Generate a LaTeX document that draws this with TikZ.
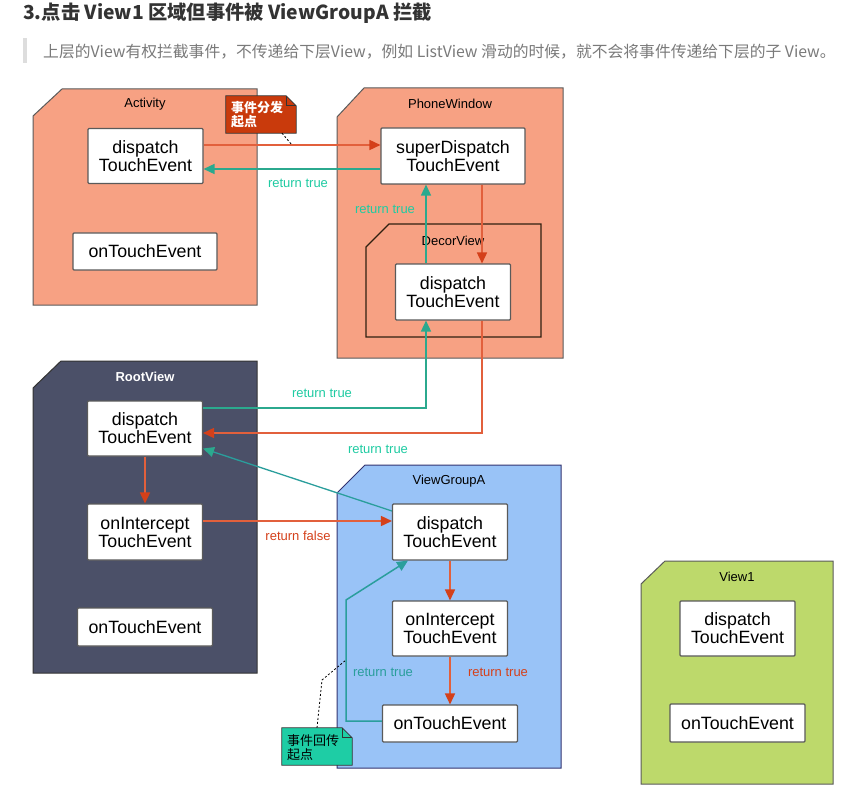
\documentclass[tikz,border=0pt]{standalone}
\usepackage{fontspec}
\setmainfont{Liberation Sans}
\newfontfamily\cjk{Noto Sans CJK SC}
\usetikzlibrary{arrows.meta}
\definecolor{salmon}{HTML}{F7A183}
\definecolor{slate}{HTML}{4B5068}
\definecolor{skyb}{HTML}{99C3F7}
\definecolor{lime}{HTML}{BDD96B}
\definecolor{redl}{HTML}{E2603C}
\definecolor{redh}{HTML}{D4401A}
\definecolor{teall}{HTML}{2BA98E}
\definecolor{tealt}{HTML}{1FCBA2}
\definecolor{teald}{HTML}{2A9E9C}
\definecolor{noteA}{HTML}{C93A0C}
\definecolor{noteB}{HTML}{1ECDA5}
\definecolor{edge}{HTML}{5A5A5A}
\definecolor{titlec}{HTML}{333333}
\definecolor{subc}{HTML}{7A7A7A}
\definecolor{barc}{HTML}{DDDDDD}
\begin{document}
\begin{tikzpicture}[x=1pt,y=-1pt,
  fn/.style={draw=edge, fill=white, line width=1.1pt, rounded corners=1pt, align=center, inner sep=0pt,
    font=\fontsize{17.8}{18}\selectfont, text=black},
  panel/.style={draw=edge, line width=1pt},
  plabel/.style={font=\fontsize{13}{14}\selectfont, inner sep=0pt},
  rarr/.style={draw=redl, line width=1.6pt, -{Triangle[length=11pt,width=10pt,color=redh]}},
  tarr/.style={draw=teall, line width=1.5pt, -{Triangle[length=11pt,width=10pt,color=teall]}},
  darr/.style={draw=teald, line width=1.5pt, -{Triangle[length=11pt,width=10pt,color=teald]}},
  tlab/.style={font=\fontsize{13}{14}\selectfont, text=tealt, inner sep=0pt},
  dlab/.style={font=\fontsize{13}{14}\selectfont, text=teald, inner sep=0pt},
  rlab/.style={font=\fontsize{13}{14}\selectfont, text=redh, inner sep=0pt},
  callout/.style={draw=none, fill=none, inner sep=0pt, minimum width=70pt, minimum height=37pt},
  leader/.style={draw=black, line width=0.8pt, dash pattern=on 2pt off 2pt}
]
\useasboundingbox (0,0) rectangle (853,794);
\fill[white] (0,0) rectangle (853,794);

% header
\node[anchor=west, inner sep=0pt, text=titlec, font=\cjk\bfseries\fontsize{19.3}{21}\selectfont] (title) at (23,13)
  {3.点击 View1 区域但事件被 ViewGroupA 拦截};
\fill[barc] (23,38) rectangle (27,63);
\node[anchor=west, inner sep=0pt, text=subc, font=\cjk\fontsize{15.8}{17}\selectfont] (sub) at (43,52)
  {上层的View有权拦截事件，不传递给下层View，例如 ListView 滑动的时候，就不会将事件传递给下层的子 View。};

% panels
\path[panel, fill=salmon] (33,116) -- (62,89) -- (257,89) -- (257,305) -- (33,305) -- cycle;
\path[panel, fill=salmon] (337,117) -- (364,88) -- (563,88) -- (563,358) -- (337,358) -- cycle;
\path[panel, fill=salmon, draw=black!75!brown, line width=1.4pt] (366,247) -- (389,224) -- (541,224) -- (541,337) -- (366,337) -- cycle;
\path[panel, fill=slate, draw=black!80] (33,388) -- (61,361) -- (257,361) -- (257,673) -- (33,673) -- cycle;
\path[panel, fill=skyb, draw=black!60!blue!60!gray] (337,493) -- (365,465) -- (561,465) -- (561,768) -- (337,768) -- cycle;
\path[panel, fill=lime] (641,584) -- (665,561) -- (833,561) -- (833,784) -- (641,784) -- cycle;

\node[plabel] (lAct) at (145,104) {Activity};
\node[plabel] (lPW) at (450,104) {PhoneWindow};
\node[plabel] (lDV) at (453,241) {DecorView};
\node[plabel, text=white, font=\bfseries\fontsize{13}{14}\selectfont] (lRV) at (145,377) {RootView};
\node[plabel] (lVG) at (449,481) {ViewGroupA};
\node[plabel] (lV1) at (737,577) {View1};

% function boxes
\node[fn, minimum width=115pt, minimum height=55pt] (actD) at (145.5,156) {dispatch\\TouchEvent};
\node[fn, minimum width=144pt, minimum height=37pt] (actT) at (145,251.5) {onTouchEvent};
\node[fn, minimum width=144pt, minimum height=56pt] (pwS) at (453,156) {superDispatch\\TouchEvent};
\node[fn, minimum width=115pt, minimum height=56pt] (decD) at (453,292) {dispatch\\TouchEvent};
\node[fn, minimum width=115pt, minimum height=55pt] (rvD) at (145,428.5) {dispatch\\TouchEvent};
\node[fn, minimum width=115pt, minimum height=56pt] (rvI) at (145,532) {onIntercept\\TouchEvent};
\node[fn, minimum width=135pt, minimum height=38pt] (rvT) at (145,627) {onTouchEvent};
\node[fn, minimum width=115pt, minimum height=56pt] (vgD) at (450,532) {dispatch\\TouchEvent};
\node[fn, minimum width=115pt, minimum height=55pt] (vgI) at (450,628.5) {onIntercept\\TouchEvent};
\node[fn, minimum width=135pt, minimum height=37pt] (vgT) at (450,723.5) {onTouchEvent};
\node[fn, minimum width=115pt, minimum height=55pt] (v1D) at (737.5,628.5) {dispatch\\TouchEvent};
\node[fn, minimum width=135pt, minimum height=38pt] (v1T) at (737.5,723) {onTouchEvent};

% connectors
\draw[rarr] ([yshift=11pt]actD.east) -- ([yshift=11pt]pwS.west);
\draw[tarr] ([yshift=-13pt]pwS.west) -- ([yshift=-13pt]actD.east);
\draw[rarr] ([xshift=29pt]pwS.south) -- ([xshift=29pt]decD.north);
\draw[tarr] ([xshift=-27pt]decD.north) -- ([xshift=-27pt]pwS.south);
\draw[tarr] ([yshift=20.5pt]rvD.east) -| ([xshift=-27pt]decD.south);
\draw[rarr] ([xshift=29pt]decD.south) |- ([yshift=-4.5pt]rvD.east);
\draw[draw=teald, line width=1.3pt, -{Triangle[length=11pt,width=10pt,color=teall]}] ([yshift=21pt]vgD.west) -- ([yshift=-20pt]rvD.east);
\draw[rarr] (rvD.south) -- (rvI.north);
\draw[rarr] ([yshift=11pt]rvI.east) -- ([yshift=11pt]vgD.west);
\draw[rarr] (vgD.south) -- (vgI.north);
\draw[rarr] (vgI.south) -- (vgT.north);
\coordinate (tb) at (346,600);
\draw[darr] ([yshift=2.5pt]vgT.west) -| (tb) -- ([xshift=-42pt]vgD.south);

% connector labels
\node[tlab] (r1) at (298,183) {return true};
\node[tlab] (r2) at (385,209) {return true};
\node[tlab] (r3) at (322,393) {return true};
\node[tlab] (r4) at (378,449) {return true};
\node[rlab] (r5) at (298,536) {return false};
\node[dlab] (r6) at (383,672) {return true};
\node[rlab] (r7) at (498,672) {return true};

% callout 1
\node[callout] (n1) at (261,114.5) {};
\path[draw=black!80, line width=0.8pt, fill=noteA] (n1.north west) -- ([xshift=-10pt]n1.north east) -- ([yshift=-10pt]n1.north east) -- (n1.south east) -- (n1.south west) -- cycle;
\draw[black!80, line width=0.8pt] ([xshift=-10pt]n1.north east) -- ([xshift=-10pt,yshift=-10pt]n1.north east) -- ([yshift=-10pt]n1.north east);
\node[anchor=west, inner sep=0pt, align=left, text=white, font=\cjk\bfseries\fontsize{13}{14}\selectfont] (n1t) at (231,115) {事件分发\\起点};
\coordinate (d1) at (292,145);
\draw[leader] ([xshift=21pt]n1.south) -- (d1);

% callout 2
\node[callout] (n2) at (317,746.5) {};
\path[draw=black!80, line width=0.8pt, fill=noteB] (n2.north west) -- ([xshift=-10pt]n2.north east) -- ([yshift=-10pt]n2.north east) -- (n2.south east) -- (n2.south west) -- cycle;
\draw[black!80, line width=0.8pt] ([xshift=-10pt]n2.north east) -- ([xshift=-10pt,yshift=-10pt]n2.north east) -- ([yshift=-10pt]n2.north east);
\node[anchor=west, inner sep=0pt, align=left, text=black, font=\cjk\fontsize{13}{14}\selectfont] (n2t) at (287,748) {事件回传\\起点};
\coordinate (d2a) at (322,680);
\coordinate (d2b) at (346,660);
\draw[leader] (n2.north) -- (d2a) -- (d2b);
\end{tikzpicture}
\end{document}
